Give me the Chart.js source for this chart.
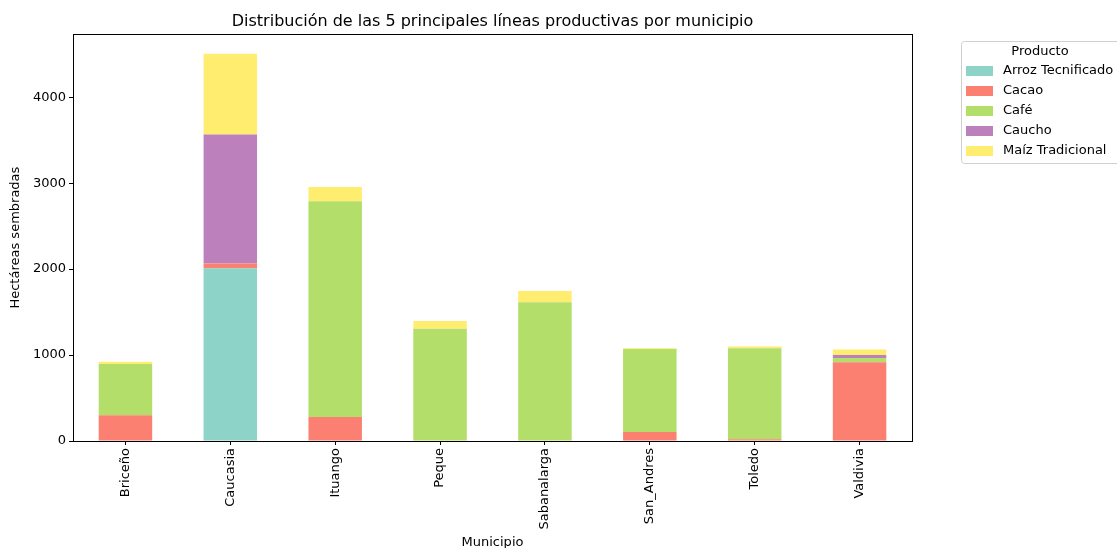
<!DOCTYPE html>
<html>
<head>
<meta charset="utf-8">
<script src="https://cdn.jsdelivr.net/npm/chart.js@4"></script>
<style>
  html, body { margin: 0; padding: 0; background: #fff; }
  #wrap { width: 1117px; height: 548px; }
</style>
</head>
<body>
<div id="wrap"><canvas id="chart"></canvas></div>
<script>
const municipios = ['Briceño', 'Caucasia', 'Ituango', 'Peque', 'Sabanalarga', 'San_Andres', 'Toledo', 'Valdivia'];
const arrozTecnificado = [0, 2010, 0, 0, 0, 0, 0, 0];
const cacao = [300, 55, 280, 0, 0, 105, 20, 915];
const cafe = [595, 0, 2510, 1305, 1615, 965, 1060, 50];
const caucho = [0, 1500, 0, 0, 0, 0, 0, 35];
const maizTradicional = [27, 940, 165, 90, 130, 10, 20, 66];
const yTicks = [0, 1000, 2000, 3000, 4000];

const productos = [
  { label: 'Arroz Tecnificado', data: arrozTecnificado, color: '#8dd3c7' },
  { label: 'Cacao', data: cacao, color: '#fb8072' },
  { label: 'Café', data: cafe, color: '#b3de69' },
  { label: 'Caucho', data: caucho, color: '#bc80bd' },
  { label: 'Maíz Tradicional', data: maizTradicional, color: '#ffed6f' },
];

Chart.defaults.font.family = '"DejaVu Sans", sans-serif';
Chart.defaults.color = '#000';

// frame around the plot + legend box on the right
const framePlugin = {
  id: 'frame',
  afterDraw(chart) {
    const { ctx, chartArea: a } = chart;
    ctx.save();
    ctx.strokeStyle = '#000';
    ctx.lineWidth = 1;
    ctx.strokeRect(Math.round(a.left) + 0.5, Math.round(a.top) + 0.5,
      Math.round(a.right - a.left), Math.round(a.bottom - a.top));

    // legend
    const lx = 961, ly = 41, lw = 170, lh = 122;
    ctx.fillStyle = 'rgba(255,255,255,0.8)';
    ctx.strokeStyle = '#d0d0d0';
    ctx.beginPath();
    ctx.roundRect(lx + 0.5, ly + 0.5, lw, lh, 3);
    ctx.fill();
    ctx.stroke();
    ctx.fillStyle = '#000';
    ctx.font = '13px "DejaVu Sans"';
    ctx.textBaseline = 'middle';
    ctx.textAlign = 'center';
    ctx.fillText('Producto', 1040, 52);
    ctx.textAlign = 'left';
    chart.data.datasets.forEach((ds, i) => {
      const y = 71 + i * 20;
      ctx.fillStyle = ds.backgroundColor;
      ctx.fillRect(966, y - 5, 27, 10);
      ctx.fillStyle = '#000';
      ctx.fillText(ds.label, 1003, y);
    });
    ctx.restore();
  }
};

new Chart(document.getElementById('chart'), {
  type: 'bar',
  data: {
    labels: municipios,
    datasets: productos.map(p => ({
      label: p.label,
      data: p.data,
      backgroundColor: p.color,
      borderWidth: 0,
      barPercentage: 0.51,
      categoryPercentage: 1.0,
    })),
  },
  options: {
    responsive: true,
    maintainAspectRatio: false,
    animation: false,
    layout: { padding: { left: 0, right: 205, top: 0, bottom: 0 } },
    plugins: {
      legend: { display: false },
      tooltip: { enabled: false },
      title: {
        display: true,
        fullSize: false,
        text: 'Distribución de las 5 principales líneas productivas por municipio',
        font: { size: 16, weight: 'normal' },
        color: '#000',
        padding: { top: 12, bottom: 3 },
      },
    },
    scales: {
      x: {
        stacked: true,
        grid: { display: true, drawOnChartArea: false, drawTicks: true, tickLength: 4, tickColor: '#000', offset: false },
        border: { display: false },
        ticks: { minRotation: 90, maxRotation: 90, autoSkip: false, padding: 3, font: { size: 13 } },
        title: { display: true, text: 'Municipio', font: { size: 13 }, padding: { top: 0, bottom: -2 } },
        afterFit(scale) { scale.height = 107; },
      },
      y: {
        stacked: true,
        min: 0,
        max: 4733,
        grid: { display: true, drawOnChartArea: false, drawTicks: true, tickLength: 4, tickColor: '#000' },
        border: { display: false },
        afterBuildTicks(scale) { scale.ticks = yTicks.map(v => ({ value: v })); },
        ticks: { padding: 3, font: { size: 13 }, callback: v => String(v) },
        title: { display: true, text: 'Hectáreas sembradas', font: { size: 13 }, padding: { top: 8, bottom: 0 } },
        afterFit(scale) { scale.width = 73; },
      },
    },
  },
  plugins: [framePlugin],
});
</script>
</body>
</html>
